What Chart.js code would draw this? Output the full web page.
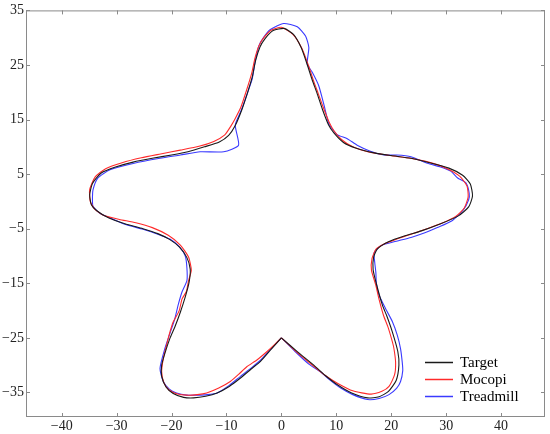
<!DOCTYPE html>
<html>
<head>
<meta charset="utf-8">
<script src="https://cdn.jsdelivr.net/npm/chart.js"></script>
<style>
  body { margin: 0; background: #ffffff; }
</style>
</head>
<body>
<canvas id="starChart" width="550" height="434"></canvas>
<script>
// tick labels
const xTicks = [-40, -30, -20, -10, 0, 10, 20, 30, 40];
const yTicks = [-35, -25, -15, -5, 5, 15, 25, 35];

// Target path (black)
const targetX = [0, 3, 5.9, 8, 10.2, 12.8, 15.7, 17.8, 19.5, 20.9, 21.4, 21.2, 20.2, 19.2, 18.4, 17.4, 16.7, 16.8, 17.5, 19.5,
  22.5, 25.5, 29, 32.3, 34.1, 34.8, 34.4, 33, 30.5, 27, 23.6, 20, 16.9, 13.5, 11.3, 9.6, 8.6, 7.5, 6.5, 5.6,
  4.6, 3.6, 2.2, 0.5, -1.5, -3, -3.9, -4.7, -5.3, -6.2, -7.2, -8.4, -9.6, -11.3, -14, -17, -20, -23.5, -27, -30.2, -32.8,
  -34.4, -34.9, -34.6, -33.6, -31.5, -28.5, -25.2, -22.5, -20.3, -18.5, -17.2, -16.6, -16.8, -17.5, -18.4, -19.4, -20.3, -21.2, -21.8, -21.8,
  -21, -19.7, -17.8, -16, -13.8, -11.7, -9.5, -7.5, -5.5, -3.8, -1.8, 0];
const targetY = [-25, -27.6, -30, -31.9, -33.6, -35.1, -36, -35.8, -34.8, -32.8, -30, -27.5, -23.9, -21, -19, -15.5, -12.5, -10.2, -8.7, -7.4,
  -6.3, -5.4, -4.1, -2.6, -1, 1, 3.2, 4.8, 6.1, 7.1, 7.9, 8.4, 8.9, 9.8, 10.8, 12.5, 14, 16.8, 19.8, 22.3,
  25.4, 28.2, 30.6, 31.7, 31.3, 29.8, 28.3, 25.8, 22.8, 19.8, 16.8, 13.9, 12.1, 10.9, 10, 9.1, 8.5, 7.9, 7.2, 6.3, 5.2,
  3.3, 1.2, -0.6, -1.7, -3, -4.1, -5, -5.9, -7, -8.4, -10.3, -12.4, -14.8, -17.5, -20.3, -23, -25.1, -27.8, -30, -32,
  -34, -35.2, -35.9, -36, -35.7, -35.1, -33.9, -32.4, -30.7, -29.3, -27, -25];

// Mocopi path (red)
const mocopiX = [0, 3, 5.9, 8, 10.2, 13, 16.3, 18.3, 19.6, 20.6, 20.8, 20.5, 20.2, 19.4, 18.6, 17.8, 17.2, 16.4, 16.5, 17.2,
  18.7, 21, 23.6, 26.5, 29.2, 31.8, 33.3, 34, 33.8, 32.5, 30, 26.8, 23.5, 19.8, 15.7, 13, 11, 9.6, 8.7, 7.6,
  6.7, 5.9, 4.9, 3.7, 2.1, 0, -1.8, -3.2, -4.1, -4.8, -5.4, -6.3, -7.4, -8.4, -9.2, -10.3, -12.3, -15, -18.4, -22, -25.5,
  -29, -32, -33.9, -34.9, -34.8, -34, -32.3, -29.5, -26.5, -23.5, -20.6, -18.4, -16.9, -16.4, -16.9, -17.3, -18.1, -18.6, -19.7, -20.4,
  -20.9, -21.5, -21.8, -21.4, -20.5, -18.9, -17.2, -15.3, -13.6, -11.4, -9.3, -7.8, -6.3, -4.4, -2.6, -1.2, 0];
const mocopiY = [-25, -27.8, -30.2, -31.9, -33.3, -34.7, -35.3, -34.8, -33.9, -31.8, -29.5, -27, -25.7, -23, -20.9, -18, -15.4, -12.6, -10.5, -8.8,
  -7.8, -6.9, -6, -5, -4, -2.7, -1.2, 0.8, 2.8, 4.6, 6.1, 7.2, 7.9, 8.4, 9.1, 10, 11.3, 12.9, 14.5, 17.3,
  19.8, 22, 25, 28.1, 30.6, 31.9, 31.4, 30, 28.5, 26.3, 23.5, 20.5, 17.2, 15.2, 13.8, 12.2, 11, 10.1, 9.4, 8.7, 8,
  7.1, 6, 4.5, 2.2, 0, -1.4, -2.6, -3.3, -3.9, -4.8, -6.2, -8, -10.2, -12.6, -14.5, -16.5, -17.9, -20, -22.1, -24.3,
  -26.3, -28.8, -31.2, -33.2, -34.5, -35.3, -35.5, -35.4, -35.1, -34.2, -33, -31.7, -30.3, -29, -27.5, -26.2, -25];

// Treadmill path (blue)
const treadmillX = [0, 2.5, 5, 7.1, 8.8, 10.8, 13, 15.7, 17.8, 19.6, 21, 21.7, 22.1, 22, 21.7, 21.1, 20.2, 19, 17.8, 17.3,
  17.2, 17, 16.9, 18.1, 20.5, 23.6, 26, 28.4, 31, 33.1, 34.1, 34.2, 33.6, 32.1, 30.9, 29, 26.6, 23.6, 21, 18.7,
  16.2, 13.8, 12, 10.2, 9.1, 8.6, 7.7, 6.8, 5.6, 4.7, 5, 4.4, 2.9, 0.4, -2, -3.2, -4.1, -4.8, -5.3, -6.3,
  -7.3, -8.4, -7.8, -10.5, -14.8, -18.4, -22.1, -26.8, -31.2, -33.4, -34.3, -34.4, -34.3, -33, -31.2, -28.5, -25.2, -22.5, -20.3, -18.6,
  -17.5, -17.2, -17.2, -18.1, -18.8, -19.4, -20.3, -21.2, -22.1, -21.5, -20.4, -19.1, -17.3, -15.4, -13.5, -11.7, -9.5, -7.5, -5.6, -3.8,
  -1.9, 0];
const treadmillY = [-25, -27.5, -29.8, -31.2, -32.7, -34.2, -35.4, -36.3, -36.1, -35.4, -34.2, -33, -31, -29.4, -27, -24.5, -22, -19.7, -17.2, -15,
  -13, -11.2, -9.4, -8.1, -7.4, -6.6, -5.8, -4.8, -3.6, -1.6, 0.3, 1.5, 3.4, 4.3, 5.5, 6.3, 7, 8.2, 8.5, 8.5,
  9.2, 10.3, 11.5, 12.2, 13.5, 14.3, 17.9, 21.2, 23.7, 25.2, 28.2, 30.3, 32, 32.6, 31.5, 30.1, 28.5, 25.5, 22.5, 19.5,
  16.7, 14, 10.3, 9.1, 9.1, 8.5, 7.9, 7, 5.8, 4.3, 2.1, 0.3, -0.9, -2.2, -3, -4.2, -5.1, -6, -6.9, -8.3,
  -10, -12.2, -14.5, -16.6, -19, -21.5, -24.2, -26.9, -30.6, -33, -34.4, -35.1, -35.5, -35.5, -35.4, -35.1, -33.7, -32.1, -30.6, -29.1,
  -27, -25];

const toPoints = (xs, ys) => xs.map((x, i) => ({ x, y: ys[i] }));
const minus = (v) => String(v).replace("-", "\u2212");
const frameColor = "#8a8a8a";
const serif = "'Liberation Serif', 'Times New Roman', serif";

// frame, inward ticks on all sides and the legend box in the corner
const framePlugin = {
  id: "frame",
  afterDraw(chart) {
    const { ctx, chartArea: a, scales } = chart;
    ctx.save();
    ctx.strokeStyle = frameColor;
    ctx.lineWidth = 1;
    ctx.strokeRect(a.left + 0.5, a.top + 0.5, a.right - a.left - 1, a.bottom - a.top - 1);
    const len = 4;
    ctx.beginPath();
    scales.x.ticks.forEach((t) => {
      const px = Math.round(scales.x.getPixelForValue(t.value)) + 0.5;
      ctx.moveTo(px, a.bottom); ctx.lineTo(px, a.bottom - len);
      ctx.moveTo(px, a.top); ctx.lineTo(px, a.top + len);
    });
    scales.y.ticks.forEach((t) => {
      const py = Math.round(scales.y.getPixelForValue(t.value)) + 0.5;
      ctx.moveTo(a.left, py); ctx.lineTo(a.left + len, py);
      ctx.moveTo(a.right, py); ctx.lineTo(a.right - len, py);
    });
    ctx.stroke();

    // legend
    ctx.font = "15px " + serif;
    ctx.textBaseline = "middle";
    ctx.fillStyle = "#000";
    const rows = [362.5, 379.5, 396.5];
    chart.data.datasets.forEach((ds, i) => {
      ctx.strokeStyle = ds.borderColor;
      ctx.lineWidth = 1.5;
      ctx.beginPath();
      ctx.moveTo(425, rows[i]);
      ctx.lineTo(453, rows[i]);
      ctx.stroke();
      ctx.fillText(ds.label, 460, rows[i] + 1);
    });
    ctx.restore();
  }
};

const lineStyle = { showLine: true, pointRadius: 0, borderWidth: 1.1, tension: 0.2, fill: false };

new Chart(document.getElementById("starChart"), {
  type: "scatter",
  data: {
    datasets: [
      { label: "Target", data: toPoints(targetX, targetY), borderColor: "#1a1a1a", ...lineStyle },
      { label: "Mocopi", data: toPoints(mocopiX, mocopiY), borderColor: "#ff2a2a", ...lineStyle },
      { label: "Treadmill", data: toPoints(treadmillX, treadmillY), borderColor: "#3a3aff", ...lineStyle },
    ],
  },
  options: {
    responsive: false,
    animation: false,
    layout: { padding: { top: 6, right: 5, left: 0, bottom: 0 } },
    plugins: { legend: { display: false }, tooltip: { enabled: false } },
    scales: {
      x: {
        type: "linear",
        min: -46.5,
        max: 48,
        afterBuildTicks: (scale) => { scale.ticks = xTicks.map((v) => ({ value: v })); },
        afterFit: (scale) => { scale.height = 17; },
        grid: { display: false, drawTicks: false },
        border: { display: false },
        ticks: {
          autoSkip: false, maxRotation: 0, padding: 1, color: "#222",
          font: { family: serif, size: 14 },
          callback: (v) => minus(v),
        },
      },
      y: {
        type: "linear",
        min: -39.5,
        max: 35,
        afterBuildTicks: (scale) => { scale.ticks = yTicks.map((v) => ({ value: v })); },
        afterFit: (scale) => { scale.width = 26; },
        grid: { display: false, drawTicks: false },
        border: { display: false },
        ticks: {
          autoSkip: false, padding: 2, color: "#222",
          font: { family: serif, size: 14 },
          callback: (v) => minus(v),
        },
      },
    },
  },
  plugins: [framePlugin],
});
</script>
</body>
</html>
